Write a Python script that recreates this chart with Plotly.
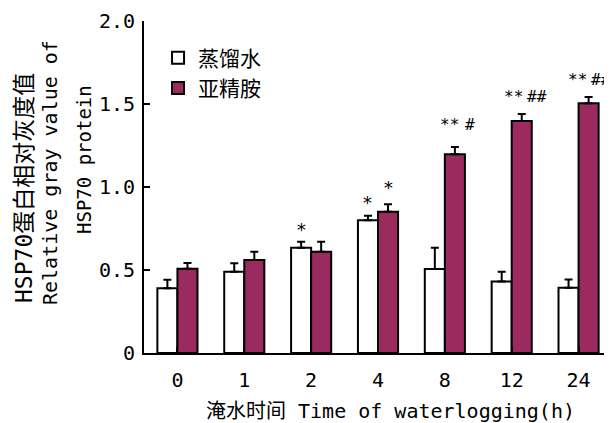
import plotly.graph_objects as go

categories = ["0", "1", "2", "4", "8", "12", "24"]
water_vals = [0.39, 0.49, 0.634, 0.80, 0.506, 0.43, 0.393]
water_err = [0.052, 0.05, 0.036, 0.027, 0.128, 0.06, 0.05]
spd_vals = [0.507, 0.56, 0.61, 0.851, 1.197, 1.398, 1.504]
spd_err = [0.035, 0.05, 0.06, 0.045, 0.044, 0.042, 0.038]
series_names = ["蒸馏水", "亚精胺"]
y_tickvals = [0, 0.5, 1.0, 1.5, 2.0]
y_ticktext = ["0", "0.5", "1.0", "1.5", "2.0"]

# significance marks: (category index, offset, y value, text)
marks = [
    (2, -0.15, 0.745, "*"),
    (3, -0.15, 0.905, "*"),
    (3, 0.15, 0.995, "*"),
    (4, 0.07, 1.375, "**"),
    (4, 0.38, 1.375, "#"),
    (5, 0.02, 1.545, "**"),
    (5, 0.38, 1.545, "##"),
    (6, -0.02, 1.645, "**"),
    (6, 0.34, 1.645, "##"),
]

FONT = "DejaVu Sans Mono, Noto Sans CJK SC"
PURPLE = "#9B2A5E"
OFF = 8  # page body margin offset

fig = go.Figure()
fig.add_trace(go.Bar(
    x=list(range(len(categories))), y=water_vals, name=series_names[0],
    marker=dict(color="white", line=dict(color="black", width=2)),
    error_y=dict(type="data", symmetric=False, array=water_err,
                 arrayminus=[0] * len(water_err), color="black",
                 thickness=2, width=4),
))
fig.add_trace(go.Bar(
    x=list(range(len(categories))), y=spd_vals, name=series_names[1],
    marker=dict(color=PURPLE, line=dict(color="black", width=2)),
    error_y=dict(type="data", symmetric=False, array=spd_err,
                 arrayminus=[0] * len(spd_err), color="black",
                 thickness=2, width=4),
))

annotations = []
for idx, off, yv, txt in marks:
    annotations.append(dict(x=idx + off, y=yv, xref="x", yref="y", text=txt,
                            showarrow=False,
                            font=dict(family=FONT, size=18 if txt == "*" else 16, color="black"),
                            xanchor="center", yanchor="middle"))

# y-axis title lines (page pixel placement relative to plot origin)
PLOT_L, PLOT_B = 144, 353
ytitle = [
    ("HSP70蛋白相对灰度值", 24, 188, 23),
    ("Relative gray value of", 50, 173, 20),
    ("HSP70 protein", 84, 160, 19),
]
for txt, px, py, fs in ytitle:
    annotations.append(dict(x=0, y=0, xref="paper", yref="paper", text=txt,
                            showarrow=False, textangle=-90,
                            xshift=px - PLOT_L, yshift=PLOT_B - py,
                            xanchor="center", yanchor="middle",
                            font=dict(family=FONT, size=fs, color="black")))

annotations.append(dict(x=0, y=0, xref="paper", yref="paper",
                        text="淹水时间 Time of waterlogging(h)", showarrow=False,
                        xshift=390 - PLOT_L, yshift=PLOT_B - 411,
                        xanchor="center", yanchor="middle",
                        font=dict(family=FONT, size=20, color="black")))

W, H = 612 - OFF, 423 - OFF
fig.update_layout(
    width=W, height=H,
    margin=dict(l=PLOT_L - OFF, r=0, t=21 - OFF, b=H - (PLOT_B - OFF)),
    paper_bgcolor="white", plot_bgcolor="white",
    barmode="group", bargap=0.4, bargroupgap=0,
    font=dict(family=FONT, size=20, color="black"),
    legend=dict(x=0.03, y=0.95, xanchor="left", yanchor="top",
                bgcolor="rgba(0,0,0,0)", font=dict(family=FONT, size=21),
                itemwidth=30, tracegroupgap=0),
    annotations=annotations,
    xaxis=dict(
        tickmode="array", tickvals=list(range(len(categories))), ticktext=categories,
        range=[-0.5, 6.5], showline=True, linecolor="black", linewidth=2,
        ticks="inside", ticklen=6, tickwidth=2, tickcolor="black",
        showgrid=False, zeroline=False, ticklabelstandoff=8,
        tickfont=dict(family=FONT, size=20),
    ),
    yaxis=dict(
        range=[0, 2.0], tickvals=y_tickvals, ticktext=y_ticktext,
        showline=True, linecolor="black", linewidth=2,
        ticks="inside", ticklen=6, tickwidth=2, tickcolor="black",
        showgrid=False, zeroline=False, ticklabelstandoff=3,
        tickfont=dict(family=FONT, size=20),
    ),
)

fig.write_html("out.html")
